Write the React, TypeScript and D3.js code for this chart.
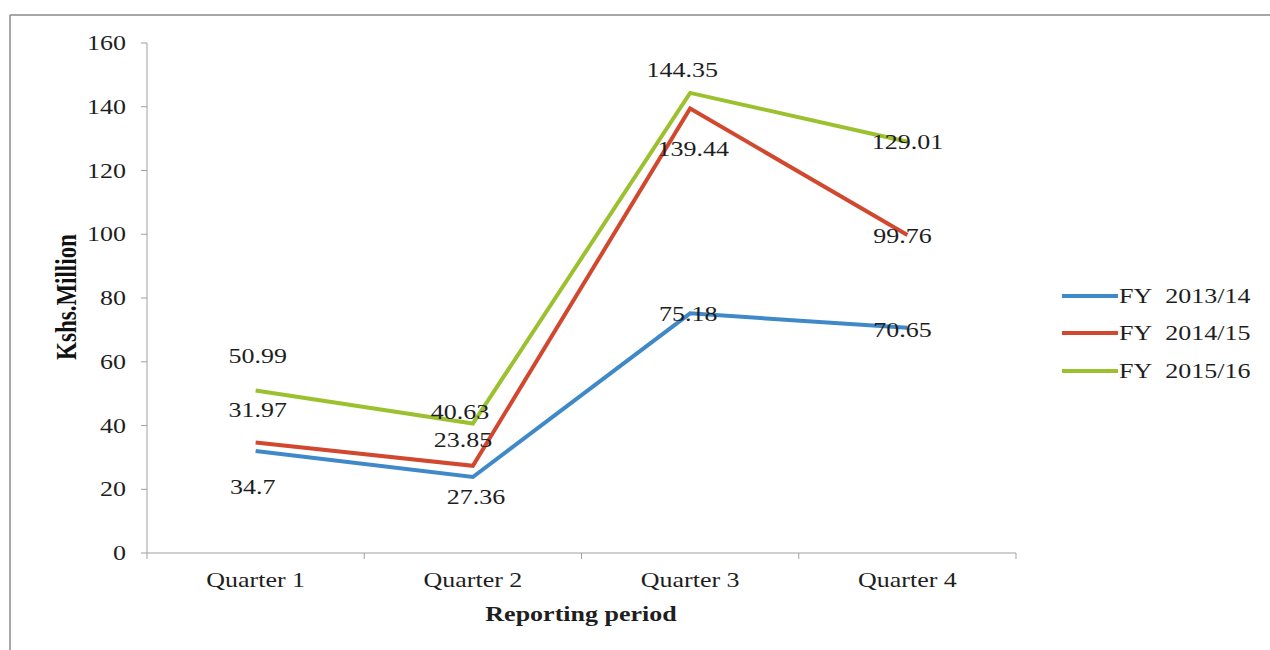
import React from "react";
import * as d3 from "d3";

const categories = ["Quarter 1", "Quarter 2", "Quarter 3", "Quarter 4"];
const seriesNames = ["FY 2013/14", "FY 2014/15", "FY 2015/16"];
const fy1314 = [31.97, 23.85, 75.18, 70.65];
const fy1415 = [34.7, 27.36, 139.44, 99.76];
const fy1516 = [50.99, 40.63, 144.35, 129.01];
const yTicks = [0, 20, 40, 60, 80, 100, 120, 140, 160];

// label text per series (as printed in the source)
const labels1314 = ["31.97", "23.85", "75.18", "70.65"];
const labels1415 = ["34.7", "27.36", "139.44", "99.76"];
const labels1516 = ["50.99", "40.63", "144.35", "129.01"];

const colors = ["#3f89c8", "#d2482f", "#9cc12f"];

// label offsets (dx, dy) relative to point
const labelOffsets = [
  [[2, -41], [-10, -37], [-2, 1], [-5, 2]],
  [[-3, 45], [3, 31], [3, 40], [-5, 1]],
  [[2, -34], [-13, -11], [-8, -23], [0, 0]],
];

const SX = 1.3;

function T({
  x,
  y,
  anchor = "start",
  size = 20,
  weight = "normal",
  children,
}: {
  x: number;
  y: number;
  anchor?: string;
  size?: number;
  weight?: string;
  children: React.ReactNode;
}) {
  return (
    <text
      transform={`translate(${x},${y}) scale(${SX},1)`}
      dy="0.35em"
      textAnchor={anchor}
      fontSize={size}
      fontWeight={weight}
      fill="#1e1e1e"
    >
      {children}
    </text>
  );
}

export default function App() {
  const W = 1270, H = 650;
  const x = d3.scaleBand().domain(categories).range([147, 1016]);
  const y = d3.scaleLinear().domain([0, 160]).range([553, 43]);
  const data = [fy1314, fy1415, fy1516];
  const lbls = [labels1314, labels1415, labels1516];
  const cx = (i: number) => (x(categories[i]) as number) + x.bandwidth() / 2;
  const line = d3
    .line<number>()
    .x((_, i) => cx(i))
    .y((d) => y(d));
  const font = "'Liberation Serif', 'Times New Roman', serif";
  const axisColor = "#a0a0a0";
  const legendY = [296, 333, 371];

  return (
    <div style={{ position: "absolute", left: 0, top: 0 }}>
      <svg width={W} height={H} style={{ display: "block", background: "#fff" }} fontFamily={font}>
        {/* outer frame */}
        <line x1={10} y1={15} x2={1270} y2={15} stroke="#8a8a8a" strokeWidth={1.5} />
        <line x1={10} y1={15} x2={10} y2={650} stroke="#8a8a8a" strokeWidth={1.5} />

        {/* y axis */}
        <line x1={147} y1={y(160)} x2={147} y2={y(0)} stroke={axisColor} strokeWidth={1} />
        {yTicks.map((t) => (
          <g key={t}>
            <line x1={141} x2={147} y1={y(t)} y2={y(t)} stroke={axisColor} />
            <T x={126} y={y(t)} anchor="end">
              {t}
            </T>
          </g>
        ))}
        {/* x axis */}
        <line x1={147} y1={y(0)} x2={1016} y2={y(0)} stroke={axisColor} />
        <line x1={147} x2={147} y1={y(0)} y2={y(0) + 6} stroke={axisColor} />
        {categories.map((c, i) => (
          <g key={c}>
            <line
              x1={(x(c) as number) + x.bandwidth()}
              x2={(x(c) as number) + x.bandwidth()}
              y1={y(0)}
              y2={y(0) + 6}
              stroke={axisColor}
            />
            <T x={cx(i)} y={580} anchor="middle">
              {c}
            </T>
          </g>
        ))}

        {/* axis titles */}
        <T x={581} y={614} anchor="middle" weight="bold">
          Reporting period
        </T>
        <text
          transform={`translate(66,297) scale(${SX},1) rotate(-90)`}
          dy="0.35em"
          textAnchor="middle"
          fontSize={23}
          fontWeight="bold"
          fill="#111"
        >
          Kshs.Million
        </text>

        {/* lines */}
        {data.map((s, k) => (
          <path
            key={k}
            d={line(s) as string}
            fill="none"
            stroke={colors[k]}
            strokeWidth={4}
            strokeLinejoin="miter"
          />
        ))}

        {/* data labels */}
        {data.map((s, k) =>
          s.map((v, i) => (
            <T
              key={`${k}-${i}`}
              x={cx(i) + labelOffsets[k][i][0]}
              y={y(v) + labelOffsets[k][i][1]}
              anchor="middle"
            >
              {lbls[k][i]}
            </T>
          ))
        )}

        {/* legend */}
        {seriesNames.map((n, k) => (
          <g key={n}>
            <line x1={1062} x2={1118} y1={legendY[k]} y2={legendY[k]} stroke={colors[k]} strokeWidth={4} />
            <T x={1119} y={legendY[k]}>
              {n.replace(" ", "\u00a0\u00a0")}
            </T>
          </g>
        ))}
      </svg>
    </div>
  );
}
